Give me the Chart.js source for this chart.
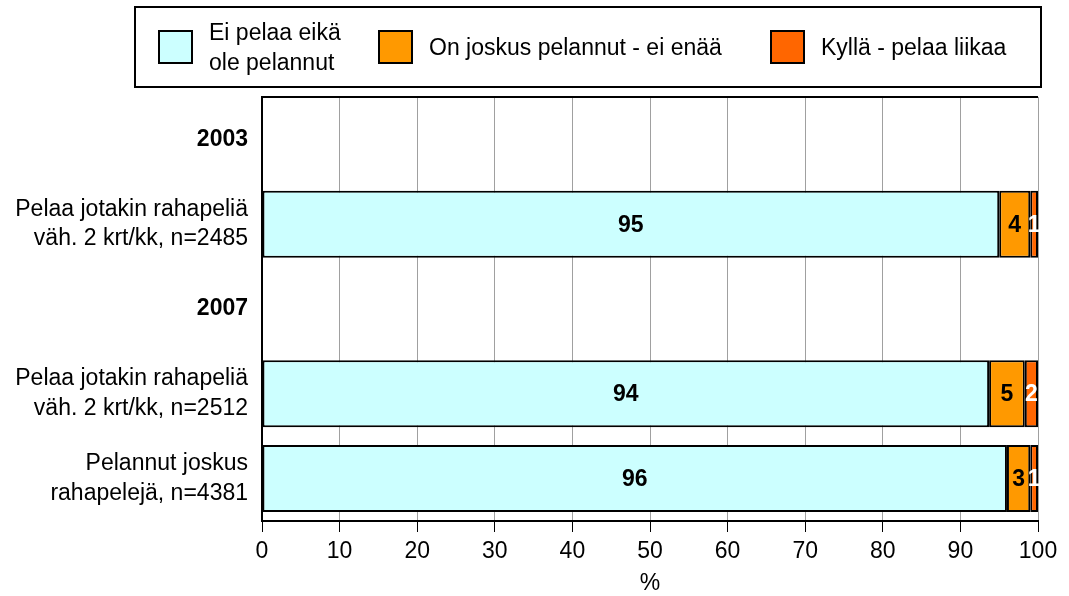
<!DOCTYPE html>
<html>
<head>
<meta charset="utf-8">
<script src="https://cdn.jsdelivr.net/npm/chart.js@4/dist/chart.umd.min.js"></script>
<style>
  body { margin: 0; background: #fff; font-family: "Liberation Sans", Arial, sans-serif; }
  #wrap { position: relative; width: 1069px; height: 596px; }
  #legend {
    position: absolute; left: 134px; top: 6px; width: 882px; height: 78px;
    border: 2px solid #000; display: flex; align-items: center; padding-left: 22px;
    box-sizing: content-box;
  }
  .item { display: flex; align-items: center; font-size: 23px; line-height: 30px; color: #000; }
  .swatch { width: 31px; height: 30px; border: 2px solid #000; margin-right: 16px; flex: none; }
</style>
</head>
<body>
<div id="wrap">
  <canvas id="chart" width="1069" height="596"></canvas>
  <div id="legend"></div>
</div>
<script>
// Kategoriat (otsikkorivit 2003 / 2007 ovat tyhjiä)
const categories = [
  '2003',
  ['Pelaa jotakin rahapeliä', 'väh. 2 krt/kk, n=2485'],
  '2007',
  ['Pelaa jotakin rahapeliä', 'väh. 2 krt/kk, n=2512'],
  ['Pelannut joskus', 'rahapelejä, n=4381']
];
const seriesNames = [['Ei pelaa eikä', 'ole pelannut'], 'On joskus pelannut - ei enää', 'Kyllä - pelaa liikaa'];
const eiPelaa = [null, 95.0, null, 93.7, 96.0];
const eiEnaa = [null, 4.0, null, 4.6, 3.0];
const liikaa = [null, 1.0, null, 1.7, 1.0];
const xTicks = [0, 10, 20, 30, 40, 50, 60, 70, 80, 90, 100];

const colors = ['#ccffff', '#ff9900', '#ff6600'];
const labelColors = ['#000', '#000', '#fff'];
const FONT = '"Liberation Sans", Arial, sans-serif';

// HTML-selite (kaksirivinen teksti)
const legendWidths = [220, 392, 250];
const legend = document.getElementById('legend');
seriesNames.forEach((name, i) => {
  const item = document.createElement('div');
  item.className = 'item';
  item.style.width = legendWidths[i] + 'px';
  const sw = document.createElement('div');
  sw.className = 'swatch';
  sw.style.background = colors[i];
  const txt = document.createElement('div');
  txt.innerHTML = Array.isArray(name) ? name.join('<br>') : name;
  item.appendChild(sw);
  item.appendChild(txt);
  legend.appendChild(item);
});

// Arvot palkkien keskelle
const valueLabels = {
  id: 'valueLabels',
  afterDatasetsDraw(chart) {
    const ctx = chart.ctx;
    ctx.save();
    ctx.font = 'bold 23px ' + FONT;
    ctx.textAlign = 'center';
    ctx.textBaseline = 'middle';
    chart.data.datasets.forEach((ds, i) => {
      chart.getDatasetMeta(i).data.forEach((bar, j) => {
        const v = ds.data[j];
        if (v == null) return;
        const p = bar.getCenterPoint();
        ctx.fillStyle = labelColors[i];
        ctx.fillText(Math.round(v), p.x, p.y + 1);
      });
    });
    ctx.restore();
  }
};

// Yläreuna kuva-alueelle
const topFrame = {
  id: 'topFrame',
  afterDraw(chart) {
    const { ctx, chartArea } = chart;
    ctx.save();
    ctx.strokeStyle = '#000';
    ctx.lineWidth = 2;
    ctx.beginPath();
    ctx.moveTo(chartArea.left, chartArea.top);
    ctx.lineTo(chartArea.right, chartArea.top);
    ctx.stroke();
    ctx.restore();
  }
};

const ctx = document.getElementById('chart').getContext('2d');
const chart = new Chart(ctx, {
  type: 'bar',
  data: {
    labels: categories,
    datasets: [eiPelaa, eiEnaa, liikaa].map((d, i) => ({
      label: Array.isArray(seriesNames[i]) ? seriesNames[i].join(' ') : seriesNames[i],
      data: d,
      backgroundColor: colors[i],
      borderColor: '#000',
      borderWidth: 2,
      borderSkipped: false,
      barPercentage: 0.79,
      categoryPercentage: 1
    }))
  },
  options: {
    indexAxis: 'y',
    responsive: false,
    animation: false,
    layout: { padding: { top: 97, right: 31, left: 0, bottom: 0 } },
    plugins: { legend: { display: false }, tooltip: { enabled: false } },
    scales: {
      x: {
        stacked: true,
        min: 0,
        max: 100,
        afterBuildTicks: (scale) => { scale.ticks = xTicks.map(v => ({ value: v })); },
        afterFit: (scale) => { scale.height = 75; },
        grid: { color: '#a0a0a0', lineWidth: 1, tickColor: '#000', tickLength: 11 },
        border: { color: '#000', width: 2 },
        ticks: { color: '#000', padding: 6, maxRotation: 0, font: { family: FONT, size: 23 } },
        title: { display: true, text: '%', color: '#000', padding: { top: 0, bottom: 0 }, font: { family: FONT, size: 23, lineHeight: 1.1 } }
      },
      y: {
        stacked: true,
        afterFit: (scale) => { scale.width = 262; },
        grid: { display: false, drawTicks: false },
        border: { color: '#000', width: 2 },
        ticks: {
          color: '#000',
          padding: 14,
          font: (c) => ({
            family: FONT,
            size: 23,
            lineHeight: 1.3,
            weight: typeof categories[c.index] === 'string' ? 'bold' : 'normal'
          })
        }
      }
    }
  },
  plugins: [valueLabels, topFrame]
});
</script>
</body>
</html>
